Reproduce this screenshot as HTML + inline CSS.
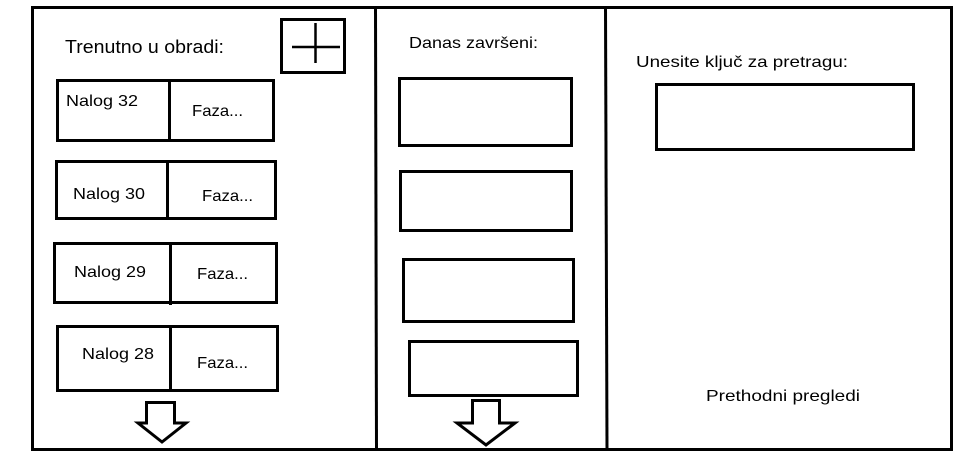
<!DOCTYPE html>
<html><head><meta charset="utf-8"><style>
html,body{margin:0;padding:0;background:#fff;}
svg{display:block}
text{font-family:"Liberation Sans",sans-serif;font-size:16px;fill:#000;}
</style></head><body>
<svg width="975" height="465" viewBox="0 0 975 465" xmlns="http://www.w3.org/2000/svg">
<g fill="none" stroke="#000" stroke-width="3">
<rect x="32.5" y="7.5" width="919" height="442"/>
<line x1="375.5" y1="7" x2="376.5" y2="450"/>
<line x1="605.5" y1="7" x2="607" y2="450"/>
<rect x="281.5" y="19.5" width="63" height="53"/>
<rect x="57.5" y="80.5" width="216" height="60"/><line x1="169.5" y1="80" x2="169.5" y2="141"/>
<rect x="56.5" y="161.5" width="219" height="57"/><line x1="167.5" y1="161" x2="167.5" y2="219"/>
<rect x="54.5" y="243.5" width="222" height="59"/><line x1="170.5" y1="243" x2="170.5" y2="305"/>
<rect x="57.5" y="326.5" width="220" height="64"/><line x1="170.5" y1="326" x2="170.5" y2="391"/>
<polygon points="146.5,402.5 174.5,402.5 174.5,423 186,423 162,442 138,423 146.5,423"/>
<rect x="399.5" y="78.5" width="172" height="67"/>
<rect x="400.5" y="171.5" width="171" height="59"/>
<rect x="403.5" y="259.5" width="170" height="62"/>
<rect x="409.5" y="341.5" width="168" height="54"/>
<polygon points="472.5,400.5 499.5,400.5 499.5,423 515,423 486,445 457,423 472.5,423"/>
<rect x="656.5" y="84.5" width="257" height="65"/>
</g>
<g stroke="#000" stroke-width="2.5">
<line x1="292" y1="47" x2="340" y2="47"/>
<line x1="315.5" y1="23" x2="315.5" y2="63"/>
</g>
<text x="65" y="53" textLength="159" lengthAdjust="spacingAndGlyphs" style="font-size:18px">Trenutno u obradi:</text>
<text x="66" y="106" textLength="72" lengthAdjust="spacingAndGlyphs">Nalog 32</text>
<text x="192" y="116" textLength="51" lengthAdjust="spacingAndGlyphs">Faza...</text>
<text x="73" y="199" textLength="72" lengthAdjust="spacingAndGlyphs">Nalog 30</text>
<text x="202" y="201" textLength="51" lengthAdjust="spacingAndGlyphs">Faza...</text>
<text x="74" y="277" textLength="72" lengthAdjust="spacingAndGlyphs">Nalog 29</text>
<text x="197" y="279" textLength="51" lengthAdjust="spacingAndGlyphs">Faza...</text>
<text x="82" y="359" textLength="72" lengthAdjust="spacingAndGlyphs">Nalog 28</text>
<text x="197" y="368" textLength="51" lengthAdjust="spacingAndGlyphs">Faza...</text>
<text x="409" y="48" textLength="129" lengthAdjust="spacingAndGlyphs">Danas završeni:</text>
<text x="636" y="67" textLength="212" lengthAdjust="spacingAndGlyphs">Unesite ključ za pretragu:</text>
<text x="706" y="401" textLength="154" lengthAdjust="spacingAndGlyphs">Prethodni pregledi</text>
</svg>
</body></html>
